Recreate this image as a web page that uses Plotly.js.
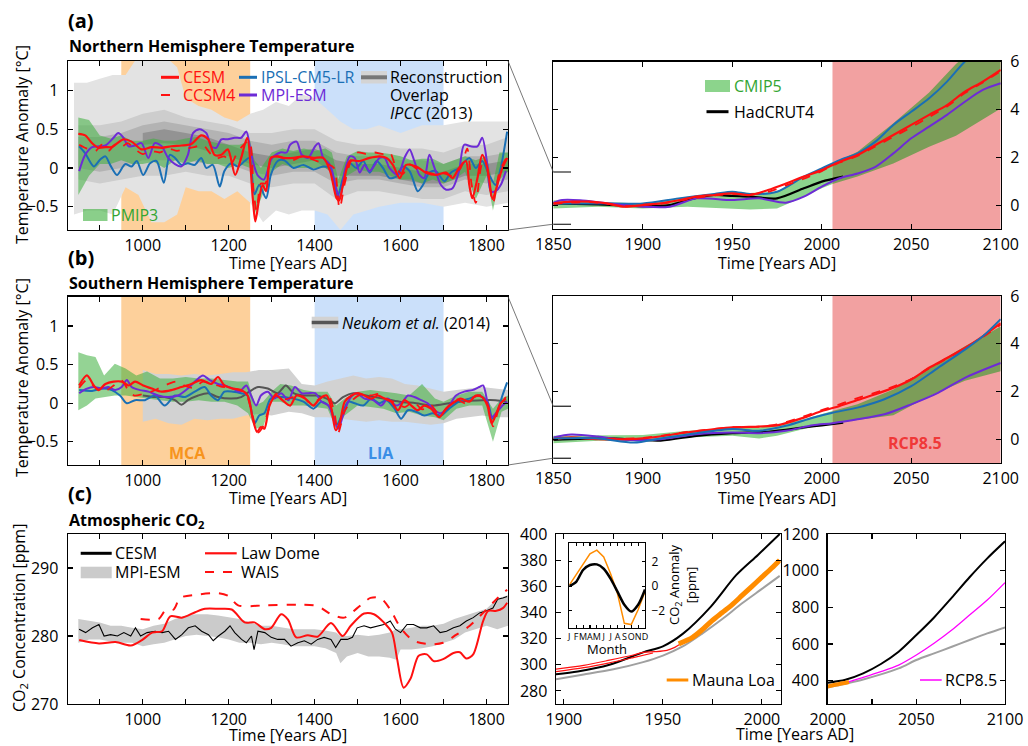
<!DOCTYPE html>
<html><head><meta charset="utf-8">
<script src="https://cdn.plot.ly/plotly-3.0.1.min.js"></script>
<style>html,body{margin:0;padding:0;background:#fff;}#chart{width:1028px;height:746px;}</style>
</head><body><div id="chart"></div>
<script>
// ---------------- DATA ----------------
// (a) left: Northern Hemisphere, last millennium
const aL_cesm_x = [850,866,882,897,913,928,955,974,997,1021,1044,1067,1090,1113,1136,1152,1167,1183,1198,1215,1229,1243,1256,1262,1271,1279,1287,1298,1314,1328,1351,1374,1397,1420,1436,1451,1457,1466,1482,1505,1528,1551,1567,1582,1598,1613,1636,1659,1682,1706,1721,1736,1752,1760,1767,1779,1790,1802,1814,1825,1837,1848];
const aL_cesm_y = [0.44,0.42,0.32,0.26,0.27,0.27,0.37,0.34,0.24,0.27,0.26,0.28,0.29,0.31,0.42,0.37,0.17,0.17,0.24,-0.09,0.13,0.39,-0.39,-0.69,-0.39,-0.22,-0.30,0.13,0.15,0.13,0.13,0.15,0.13,0.13,-0.04,-0.39,-0.42,-0.22,0.09,0.09,0.13,0.15,0.13,0.04,-0.13,0.04,0.02,-0.06,-0.09,-0.06,-0.13,0.0,0.09,-0.22,-0.39,-0.13,0.17,0.0,-0.40,-0.22,0.0,0.13];
const aL_ccsm_x = [852,870,890,905,920,935,950,965,980,1000,1020,1040,1060,1080,1100,1120,1140,1155,1170,1190,1205,1220,1235,1248,1258,1265,1275,1285,1295,1310,1330,1350,1370,1390,1410,1430,1445,1458,1470,1485,1500,1520,1540,1560,1575,1590,1605,1620,1640,1660,1680,1700,1720,1740,1755,1765,1775,1790,1800,1815,1830,1845];
const aL_ccsm_y = [0.3,0.25,0.22,0.3,0.22,0.3,0.27,0.32,0.25,0.18,0.22,0.2,0.25,0.22,0.25,0.27,0.3,0.2,0.12,0.15,0.05,0.2,0.3,0.35,-0.3,-0.55,-0.2,-0.2,0.05,0.15,0.12,0.1,0.15,0.12,0.08,0.05,0.0,-0.52,-0.2,0.1,0.2,0.18,0.2,0.18,0.2,0.0,-0.08,0.05,-0.02,-0.05,-0.08,-0.07,-0.1,0.0,0.25,-0.2,-0.45,0.05,0.0,-0.45,-0.05,0.12];
const aL_ipsl_x = [852,866,886,901,913,924,940,959,974,986,1001,1017,1032,1049,1063,1075,1090,1105,1121,1136,1148,1163,1179,1190,1206,1221,1237,1248,1260,1271,1287,1298,1314,1329,1351,1374,1397,1420,1436,1453,1466,1482,1497,1513,1528,1544,1559,1574,1590,1605,1621,1640,1652,1667,1682,1702,1717,1736,1760,1775,1790,1806,1821,1833,1848];
const aL_ipsl_y = [0.28,0.19,0.02,0.11,0.15,0.04,-0.09,0.05,0.02,0.09,-0.09,0.06,0.09,-0.19,0.17,0.13,0.04,0.06,0.04,0.13,0.0,0.04,-0.24,-0.04,0.06,0.02,0.09,0.13,-0.34,-0.22,-0.39,-0.09,0.09,0.10,0.0,0.04,-0.02,0.02,0.0,-0.37,-0.13,0.06,0.0,0.09,-0.06,0.09,0.0,-0.13,-0.11,0.02,-0.04,-0.30,-0.22,-0.06,-0.04,-0.17,-0.06,0.0,0.13,0.0,0.09,-0.09,-0.22,0.0,0.47];
const aL_mpi_x = [852,866,882,897,913,932,943,955,967,982,997,1013,1028,1044,1059,1075,1090,1105,1117,1132,1148,1159,1171,1183,1198,1214,1229,1241,1250,1258,1268,1282,1300,1320,1335,1343,1358,1370,1385,1401,1409,1420,1436,1451,1459,1470,1482,1493,1505,1516,1528,1540,1551,1563,1574,1594,1609,1621,1632,1644,1655,1667,1679,1694,1706,1721,1736,1748,1763,1779,1790,1802,1810,1821,1833,1845];
const aL_mpi_y = [-0.04,0.17,0.27,0.28,0.29,0.39,0.45,0.39,0.28,0.29,0.32,0.13,0.32,0.28,0.13,0.05,0.02,0.17,0.45,0.50,0.45,0.28,0.26,0.37,0.37,0.39,0.39,0.47,0.25,0.05,-0.1,-0.15,0.12,0.2,0.2,0.30,0.34,0.17,0.13,0.28,0.32,0.13,0.04,-0.28,-0.39,-0.04,0.15,0.13,-0.06,0.04,-0.04,0.04,0.13,0.13,0.0,-0.09,0.13,0.24,0.09,-0.09,-0.13,0.17,0.0,-0.22,-0.28,-0.26,-0.04,0.30,0.28,0.28,0.39,0.04,-0.30,-0.30,-0.22,-0.04];
const aL_pmip_x = [850,875,900,925,950,975,1000,1025,1050,1075,1100,1125,1150,1175,1200,1225,1250,1260,1275,1300,1325,1350,1375,1400,1425,1440,1455,1475,1500,1525,1550,1575,1600,1625,1650,1675,1700,1725,1750,1775,1800,1815,1830,1850];
const aL_pmip_up = [0.65,0.62,0.42,0.38,0.42,0.35,0.35,0.38,0.35,0.35,0.38,0.4,0.35,0.32,0.3,0.3,0.35,0.1,0.0,0.2,0.25,0.22,0.25,0.22,0.25,0.2,-0.15,0.15,0.22,0.2,0.2,0.18,0.15,0.1,0.12,0.12,0.05,0.1,0.15,0.1,0.15,-0.2,0.2,0.2];
const aL_pmip_lo = [-0.35,-0.1,0.05,0.05,0.1,0.05,0.05,0.08,0.0,0.1,0.05,0.1,0.05,0.05,0.0,0.05,0.0,-0.6,-0.4,-0.05,0.05,0.0,0.0,0.0,0.0,-0.05,-0.45,-0.1,-0.02,-0.05,-0.05,-0.1,-0.15,-0.15,-0.2,-0.15,-0.2,-0.15,-0.05,-0.4,-0.1,-0.55,-0.15,-0.05];
// reconstruction overlap (IPCC 2013), four shading levels
const rec1_x = [840,870,900,930,960,990,1020,1050,1080,1100,1130,1160,1190,1220,1250,1280,1310,1340,1370,1400,1430,1460,1490,1520,1550,1600,1650,1700,1750,1800,1850];
const rec1_up = [1.1,1.1,1.15,1.2,1.2,1.45,1.45,1.45,1.3,0.9,0.8,0.75,0.65,0.6,0.7,0.75,0.85,0.8,0.95,0.9,0.75,0.6,0.5,0.5,0.55,0.45,0.55,0.55,0.6,0.6,0.6];
const rec1_lo = [-0.6,-0.55,-0.55,-0.6,-0.25,-0.35,-0.7,-0.7,-0.6,-0.25,-0.3,-0.3,-0.4,-0.3,-0.45,-0.7,-0.55,-0.6,-0.55,-0.55,-0.6,-0.8,-0.6,-0.55,-0.5,-0.45,-0.45,-0.5,-0.45,-0.5,-0.45];
const rec2_x = [850,900,950,1000,1050,1100,1150,1200,1250,1300,1350,1400,1450,1500,1550,1600,1650,1700,1750,1800,1850];
const rec2_up = [0.55,0.55,0.6,0.7,0.75,0.65,0.6,0.55,0.45,0.45,0.5,0.5,0.35,0.3,0.3,0.25,0.25,0.2,0.3,0.3,0.4];
const rec2_lo = [-0.15,-0.2,-0.15,-0.1,-0.1,-0.05,-0.1,-0.1,-0.2,-0.25,-0.2,-0.2,-0.4,-0.3,-0.3,-0.35,-0.4,-0.4,-0.3,-0.35,-0.3];
const rec3_up = [0.4,0.4,0.45,0.55,0.6,0.55,0.5,0.45,0.35,0.3,0.35,0.35,0.2,0.15,0.15,0.1,0.1,0.05,0.15,0.15,0.2];
const rec3_lo = [0.0,-0.05,0.0,0.1,0.1,0.1,0.05,0.05,-0.05,-0.1,-0.05,-0.05,-0.2,-0.15,-0.15,-0.2,-0.25,-0.25,-0.15,-0.2,-0.15];
const rec4_x = [1000,1050,1100,1150,1200,1250,1300,1350,1400,1450,1500,1550,1600,1650,1700,1750,1800,1850];
const rec4_up = [0.45,0.5,0.45,0.4,0.3,0.2,0.15,0.2,0.25,0.1,0.05,0.05,0.0,-0.05,-0.05,0.05,0.05,0.1];
const rec4_lo = [0.3,0.32,0.3,0.22,0.15,0.05,0.0,0.05,0.1,-0.1,-0.1,-0.1,-0.15,-0.2,-0.2,-0.1,-0.1,-0.05];

// (a) right: NH 1850-2100
const aR_cesm_x = [1850,1860,1870,1880,1890,1900,1910,1920,1930,1940,1950,1960,1970,1980,1990,2000,2010,2020,2030,2040,2050,2060,2070,2080,2090,2100];
const aR_cesm_y = [0.07,0.14,0.14,0.07,-0.07,0.0,0.07,0.2,0.35,0.42,0.49,0.42,0.63,0.9,1.19,1.46,1.81,2.09,2.51,2.93,3.35,3.77,4.18,4.74,5.16,5.65];
const aR_ccsm_y = [0.05,0.1,0.12,0.05,-0.05,0.02,0.05,0.18,0.3,0.4,0.47,0.45,0.55,0.82,1.1,1.42,1.78,2.05,2.45,2.85,3.25,3.68,4.12,4.68,5.12,5.6];
const aR_ipsl_x = [1850,1875,1900,1920,1940,1950,1960,1975,1990,2000,2010,2020,2030,2040,2050,2060,2070,2080,2090,2100];
const aR_ipsl_y = [0.07,0.07,0.07,0.28,0.46,0.56,0.46,0.56,1.19,1.53,1.88,2.16,2.65,3.35,3.9,4.46,5.16,6.0,6.6,7.2];
const aR_mpi_x = [1850,1855,1865,1880,1900,1915,1930,1950,1965,1980,1990,2000,2010,2020,2030,2040,2050,2060,2070,2080,2090,2100];
const aR_mpi_y = [0.1,0.21,0.2,0.07,-0.07,-0.07,0.28,0.21,0.28,0.1,0.35,0.77,1.12,1.32,1.6,2.16,2.79,3.28,3.77,4.32,4.81,5.09];
const aR_had_x = [1850,1875,1900,1915,1925,1940,1950,1960,1975,1990,2000,2012];
const aR_had_y = [0.07,0.03,-0.04,0.0,0.21,0.42,0.38,0.35,0.28,0.7,0.98,1.19];
const aR_cmip_x = [1850,1875,1900,1925,1950,1960,1975,1990,2000,2006,2020,2040,2060,2075,2100];
const aR_cmip_up = [0.2,0.14,0.07,0.35,0.56,0.5,0.56,1.19,1.53,1.74,2.23,3.42,4.7,5.9,7.5];
const aR_cmip_lo = [-0.14,-0.07,-0.14,-0.07,-0.14,-0.18,-0.14,0.35,0.7,0.88,1.19,1.74,2.44,2.9,4.04];

// (b) left: Southern Hemisphere, last millennium
const bL_cesm_x = [852,870,886,897,913,932,951,967,982,1001,1021,1044,1067,1090,1113,1136,1159,1175,1190,1210,1229,1244,1256,1266,1275,1283,1295,1310,1325,1343,1358,1378,1397,1412,1428,1439,1449,1459,1470,1486,1501,1516,1532,1547,1563,1578,1594,1609,1625,1640,1655,1671,1690,1706,1721,1740,1760,1775,1790,1802,1812,1821,1833,1845];
const bL_cesm_y = [0.23,0.36,0.23,0.17,0.25,0.28,0.28,0.23,0.28,0.23,0.19,0.15,0.17,0.21,0.25,0.30,0.25,0.34,0.23,0.19,0.17,0.10,-0.20,-0.37,-0.31,-0.33,-0.03,0.10,0.04,-0.03,0.10,0.06,-0.03,0.06,0.10,-0.07,-0.35,-0.24,0.02,0.10,0.13,0.10,0.06,0.10,0.06,0.02,-0.09,0.04,-0.03,-0.09,-0.03,-0.07,-0.18,-0.07,0.0,0.06,0.02,0.10,0.08,-0.03,-0.26,-0.16,0.0,0.06];
const bL_ccsm_x = [852,870,890,910,930,950,965,980,1000,1020,1040,1060,1080,1100,1120,1140,1160,1180,1200,1220,1240,1255,1268,1280,1295,1310,1330,1350,1370,1390,1410,1430,1445,1455,1470,1490,1510,1530,1550,1570,1590,1610,1630,1650,1670,1690,1710,1730,1750,1770,1790,1805,1815,1830,1845];
const bL_ccsm_y = [0.2,0.3,0.2,0.15,0.22,0.3,0.18,0.1,0.12,0.15,0.2,0.25,0.28,0.22,0.2,0.28,0.25,0.22,0.2,0.18,0.12,-0.15,-0.38,-0.3,-0.05,0.12,0.05,0.08,0.1,0.0,0.05,0.12,-0.1,-0.38,-0.1,0.05,0.12,0.1,0.12,0.05,0.0,-0.05,0.02,-0.08,-0.02,-0.15,-0.05,0.05,0.0,0.08,0.1,-0.05,-0.3,-0.05,0.08];
const bL_ipsl_x = [852,882,905,928,947,963,982,1005,1028,1051,1075,1098,1121,1144,1159,1175,1190,1210,1229,1244,1260,1271,1283,1298,1322,1351,1374,1397,1416,1436,1451,1463,1478,1493,1513,1532,1551,1567,1586,1601,1617,1636,1655,1675,1694,1713,1736,1760,1783,1802,1814,1825,1837,1848];
const bL_ipsl_y = [0.17,0.16,0.19,0.17,0.10,0.0,0.04,0.04,0.10,-0.03,0.10,0.08,0.15,0.21,0.10,0.04,0.15,0.15,0.13,0.10,-0.26,-0.16,-0.13,0.06,0.08,0.06,0.02,-0.07,0.02,-0.05,-0.28,-0.16,0.02,0.0,-0.03,0.06,0.0,0.04,-0.07,-0.20,-0.09,-0.11,-0.16,-0.13,-0.16,-0.07,0.02,0.06,0.10,0.02,-0.20,-0.11,0.10,0.27];
const bL_mpi_x = [852,870,886,905,920,936,951,963,974,994,1013,1036,1059,1082,1105,1125,1140,1156,1175,1190,1210,1225,1241,1252,1264,1275,1291,1306,1322,1339,1354,1370,1385,1401,1416,1432,1447,1455,1466,1482,1497,1516,1536,1555,1570,1590,1605,1617,1632,1648,1663,1679,1694,1713,1729,1748,1767,1783,1792,1802,1812,1825,1837,1848];
const bL_mpi_y = [0.13,0.19,0.21,0.19,0.21,0.17,0.21,0.30,0.21,0.17,0.15,0.10,0.08,0.10,0.19,0.30,0.36,0.30,0.25,0.23,0.19,0.15,0.23,0.10,-0.03,0.10,0.15,0.06,0.13,0.04,0.21,0.13,0.13,0.13,0.02,-0.03,-0.24,-0.33,-0.16,0.06,0.13,0.06,0.04,-0.03,0.06,-0.03,0.02,0.10,0.08,0.04,0.0,-0.09,-0.13,-0.03,0.10,0.15,0.17,0.21,0.23,0.02,-0.18,-0.11,-0.03,0.02];
const bL_pmip_x = [850,870,890,910,935,960,985,1010,1040,1070,1100,1130,1160,1190,1220,1245,1262,1280,1300,1320,1345,1375,1400,1430,1450,1470,1500,1530,1560,1590,1620,1650,1680,1700,1730,1760,1790,1815,1835,1850];
const bL_pmip_up = [0.66,0.62,0.60,0.36,0.51,0.45,0.36,0.41,0.32,0.32,0.34,0.32,0.32,0.30,0.28,0.28,-0.03,0.02,0.15,0.25,0.23,0.17,0.15,0.15,-0.03,0.06,0.15,0.17,0.15,0.13,0.10,0.25,0.06,0.02,0.10,0.15,0.15,-0.07,0.06,0.10];
const bL_pmip_lo = [-0.09,-0.03,0.06,0.08,0.10,0.10,0.08,0.06,0.04,0.02,0.02,0.04,0.02,0.02,-0.03,-0.13,-0.33,-0.31,0.02,0.02,-0.03,-0.03,-0.05,-0.07,-0.33,-0.16,-0.03,-0.05,-0.07,-0.13,-0.11,-0.16,-0.18,-0.22,-0.07,-0.03,-0.03,-0.5,-0.11,-0.07];
const neuk_x = [1000,1028,1051,1075,1090,1105,1129,1152,1175,1206,1229,1248,1268,1291,1314,1333,1351,1374,1405,1428,1447,1466,1490,1520,1559,1598,1636,1675,1713,1752,1790,1821,1848];
const neuk_y = [0.1,0.08,0.08,0.04,-0.02,0.04,0.1,0.13,0.08,0.06,0.08,0.15,0.21,0.19,0.13,0.23,0.13,0.1,0.1,0.06,0.0,0.08,0.13,0.1,0.06,0.02,0.0,-0.03,0.0,0.03,0.04,0.04,0.02];
const neukB_x = [1000,1030,1060,1090,1120,1150,1180,1210,1240,1270,1300,1340,1370,1400,1430,1460,1490,1520,1550,1580,1610,1640,1670,1700,1730,1760,1790,1820,1850];
const neukB_up = [0.43,0.38,0.38,0.36,0.38,0.36,0.38,0.4,0.4,0.43,0.43,0.45,0.25,0.23,0.28,0.32,0.36,0.32,0.34,0.32,0.25,0.23,0.19,0.15,0.17,0.19,0.21,0.19,0.17];
const neukB_lo = [-0.24,-0.2,-0.26,-0.28,-0.2,-0.22,-0.2,-0.2,-0.16,-0.14,-0.16,-0.11,-0.13,-0.18,-0.18,-0.2,-0.22,-0.24,-0.22,-0.24,-0.24,-0.26,-0.28,-0.26,-0.2,-0.18,-0.16,-0.18,-0.18];

// (b) right: SH 1850-2100
const bR_cesm_x = [1850,1860,1875,1900,1925,1950,1965,1975,1990,2000,2010,2020,2030,2040,2050,2060,2070,2080,2090,2100];
const bR_cesm_y = [0.0,0.07,0.0,0.03,0.28,0.49,0.53,0.58,0.9,1.18,1.39,1.64,1.88,2.15,2.5,2.99,3.4,3.82,4.31,4.86];
const bR_ccsm_y = [0.02,0.05,0.02,0.05,0.3,0.5,0.52,0.62,0.95,1.22,1.46,1.72,1.95,2.2,2.52,2.97,3.38,3.8,4.28,4.8];
const bR_ipsl_x = [1850,1875,1895,1910,1930,1950,1965,1980,1995,2006,2020,2035,2050,2065,2080,2090,2100];
const bR_ipsl_y = [0.03,0.03,-0.14,0.03,0.25,0.42,0.35,0.56,0.9,1.11,1.32,1.67,2.22,2.99,3.75,4.31,5.03];
const bR_mpi_x = [1850,1860,1875,1890,1910,1930,1950,1965,1980,1995,2006,2020,2035,2050,2065,2080,2100];
const bR_mpi_y = [0.07,0.19,0.11,-0.03,0.0,0.21,0.28,0.25,0.35,0.58,0.67,0.83,1.04,1.46,1.94,2.57,3.19];
const bR_had_x = [1850,1880,1910,1930,1950,1970,1990,2000,2012];
const bR_had_y = [-0.03,0.03,-0.06,0.14,0.25,0.31,0.49,0.58,0.69];
const bR_cmip_x = [1850,1875,1900,1925,1950,1965,1975,1990,2006,2020,2040,2060,2080,2100];
const bR_cmip_up = [0.14,0.14,0.17,0.35,0.49,0.49,0.58,0.83,1.18,1.46,2.08,2.99,3.89,4.72];
const bR_cmip_lo = [-0.17,-0.07,-0.07,0.07,0.14,0.03,0.14,0.42,0.67,0.8,1.0,1.8,2.45,2.85];

// (c) left: atmospheric CO2, last millennium
const cL_cesm_x = [852,867,883,898,910,925,941,956,972,983,995,1010,1029,1045,1060,1076,1091,1106,1122,1137,1153,1164,1176,1191,1203,1214,1230,1241,1253,1259,1268,1284,1299,1314,1330,1345,1361,1376,1392,1407,1422,1438,1449,1461,1476,1488,1499,1515,1530,1546,1561,1576,1588,1600,1615,1630,1646,1661,1677,1692,1707,1723,1738,1753,1769,1784,1800,1815,1826,1838,1848];
const cL_cesm_y = [281.0,280.5,281.2,281.7,280.0,280.2,280.0,280.5,280.0,281.2,280.0,280.5,280.7,280.5,280.7,279.5,280.2,281.2,281.5,280.7,280.2,279.3,280.0,280.7,281.5,280.5,279.5,279.0,280.0,278.0,280.7,280.5,279.8,279.5,279.5,278.5,279.0,279.3,278.8,279.5,279.8,279.5,278.3,279.5,279.5,279.8,281.2,281.5,281.2,281.5,281.7,282.2,281.0,280.5,281.7,281.7,281.2,281.2,281.5,280.5,280.7,281.2,281.5,282.2,282.7,283.4,283.7,284.1,285.4,285.6,285.8];
const cL_mpi_x = [850,875,900,925,950,975,1000,1025,1050,1075,1100,1125,1150,1175,1200,1225,1250,1275,1300,1325,1350,1375,1400,1425,1450,1460,1475,1500,1525,1550,1575,1590,1600,1625,1650,1675,1700,1725,1750,1775,1800,1825,1850];
const cL_mpi_up = [282.5,282.2,282.0,281.5,281.5,281.2,281.0,281.5,281.8,282.5,283.0,283.2,283.2,283.0,282.8,282.5,282.0,281.5,281.5,281.2,281.0,281.0,281.0,280.8,280.5,280.0,280.0,280.2,280.0,280.2,280.5,281.0,281.0,281.2,281.5,281.5,281.8,282.5,283.0,283.5,284.0,285.5,286.0];
const cL_mpi_lo = [279.0,279.5,279.5,279.2,279.0,279.0,278.5,278.8,279.0,279.5,280.0,280.2,280.0,279.8,279.5,279.0,279.0,278.8,279.0,278.8,278.5,278.5,278.5,278.2,277.5,276.0,277.0,277.5,277.0,277.0,276.8,276.5,278.0,278.0,278.2,278.5,279.0,279.5,280.5,281.0,281.5,281.0,281.5];
const cL_law_x = [852,898,937,972,998,1022,1045,1064,1091,1122,1145,1176,1207,1237,1260,1284,1299,1322,1338,1357,1384,1407,1438,1465,1484,1515,1538,1561,1580,1592,1607,1623,1642,1661,1677,1699,1723,1738,1753,1769,1792,1804,1823,1838,1848];
const cL_law_y = [279.4,278.9,279.1,278.6,279.4,280.5,280.7,282.9,282.7,283.5,284.0,284.0,283.9,282.0,282.0,281.0,281.2,283.2,282.4,279.8,280.1,279.9,281.9,280.0,281.5,283.3,283.2,282.0,280.5,276.6,272.4,273.7,277.1,277.3,276.3,276.6,277.5,277.6,276.7,277.3,282.2,283.7,283.7,284.1,284.9];
const cL_wais_x = [995,1037,1052,1072,1087,1129,1176,1199,1222,1284,1361,1407,1438,1469,1499,1530,1553,1576,1600,1630,1669,1699,1730,1761,1792,1823,1848];
const cL_wais_y = [282.5,282.5,283.7,283.9,285.6,286.1,286.3,285.9,284.5,284.5,284.6,284.4,283.2,282.7,284.1,285.6,285.6,283.9,281.2,279.3,278.8,279.0,280.2,281.5,283.4,285.4,286.8];

// (c) middle: 20th century CO2
const cM_cesm_x = [1896,1907,1923,1940,1950,1960,1974,1987,1998,2009];
const cM_cesm_y = [292.8,294.9,300,309.5,314.1,323.6,344.1,368.5,384,400];
const cM_mpi_x = [1896,1910,1925,1940,1950,1960,1970,1980,1990,2000,2009];
const cM_mpi_y = [289,292.5,296.5,302,307,314,324,335,347,358,368];
const cM_law1_x = [1896,1910,1923,1935,1940,1946,1952,1956,1959];
const cM_law1_y = [296.6,299.5,303.5,307.5,309.5,310.0,311.0,313.3,316.0];
const cM_law2_x = [1896,1910,1923,1935,1945];
const cM_law2_y = [294.8,297.8,301.5,305.5,309.0];
const cM_ml_x = [1958,1965,1970,1975,1980,1985,1990,1995,2000,2005,2009];
const cM_ml_y = [316,321,327,334,340,346,353,360,367,374,380];
// inset: seasonal cycle
const months = [1,2,3,4,5,6,7,8,9,10,11,12];
const monthLabels = ['J','F','M','A','M','J','J','A','S','O','N','D'];
const inset_ml = [0.08,0.9,1.7,2.6,2.9,2.35,1.0,-0.6,-3.0,-3.1,-1.9,-0.45];
const inset_cesm = [0.0,0.35,1.3,1.7,1.75,1.4,0.6,-0.45,-1.5,-2.05,-1.5,-0.27];

// (c) right: 21st century CO2
const cR_x = [2000,2010,2020,2030,2040,2050,2060,2070,2080,2090,2100];
const cR_cesm = [389,405,440,491,558,649,745,853,964,1067,1160];
const cR_rcp = [371,389,418,449,485,540,604,676,758,840,935];
const cR_mpi_x = [2000,2020,2040,2050,2060,2070,2080,2090,2100];
const cR_mpi = [364,407,467,513,549,585,622,658,691];
const cR_ml_x = [2000,2005,2012];
const cR_ml = [368,379,393];

// tick values / labels
const millTicks = [1000,1200,1400,1600,1800];
const millMinor = [900,1100,1300,1500,1700];
const tTicks = [-0.5,0,0.5,1];
const tText = ['\u22120.5','0','0.5','1'];
const futTicks = [1850,1900,1950,2000,2050,2100];
const rTicks = [0,2,4,6];

// ---------------- DRAWING ----------------
const F = '"Open Sans", "Noto Sans", sans-serif';
const RED = '#ff1010', BLUE = '#1a6fb5', PURPLE = '#6d2bd6', GREENTXT = '#33a532';
const PMIP = 'rgba(60,175,60,0.55)', CMIP = '#8cd48c', OLIVE = '#7c9d58';
const PEACH = '#fdd09b', LBLUE = '#cbe0fa', PINK = '#f2a1a1';

function band(xs, up, lo, xa, ya, color) {
  return {x: xs.concat(xs.slice().reverse()), y: up.concat(lo.slice().reverse()),
    xaxis: xa, yaxis: ya, type: 'scatter', mode: 'lines', fill: 'toself', fillcolor: color,
    line: {width: 0, color: color}, hoverinfo: 'skip'};
}
function ln(xs, ys, xa, ya, color, width, dash, shape) {
  return {x: xs, y: ys, xaxis: xa, yaxis: ya, type: 'scatter', mode: 'lines',
    line: {color: color, width: width, dash: dash || 'solid', shape: shape || 'linear', smoothing: 0.8},
    hoverinfo: 'skip'};
}
function splitBand(xs, up, lo, cut, before) {
  const idx = xs.map((v, i) => i).filter(i => before ? xs[i] <= cut : xs[i] >= cut);
  return [idx.map(i => xs[i]), idx.map(i => up[i]), idx.map(i => lo[i])];
}

const traces = [];
// (a) left
traces.push(band(rec1_x, rec1_up, rec1_lo, 'x', 'y', '#e3e3e3'));
traces.push(band(rec2_x, rec2_up, rec2_lo, 'x', 'y', '#cdcdcd'));
traces.push(band(rec2_x, rec3_up, rec3_lo, 'x', 'y', '#b3b3b3'));
traces.push(band(rec4_x, rec4_up, rec4_lo, 'x', 'y', '#939393'));
traces.push(band(aL_pmip_x, aL_pmip_up, aL_pmip_lo, 'x', 'y', PMIP));
traces.push(ln(aL_ipsl_x, aL_ipsl_y, 'x', 'y', BLUE, 2, null, 'spline'));
traces.push(ln(aL_mpi_x, aL_mpi_y, 'x', 'y', PURPLE, 2, null, 'spline'));
traces.push(ln(aL_ccsm_x, aL_ccsm_y, 'x', 'y', RED, 1.8, 'dash', 'spline'));
traces.push(ln(aL_cesm_x, aL_cesm_y, 'x', 'y', RED, 2.2, null, 'spline'));
// (a) right
let s1 = splitBand(aR_cmip_x, aR_cmip_up, aR_cmip_lo, 2006, true);
let s2 = splitBand(aR_cmip_x, aR_cmip_up, aR_cmip_lo, 2006, false);
traces.push(band(s1[0], s1[1], s1[2], 'x2', 'y2', CMIP));
traces.push(band(s2[0], s2[1], s2[2], 'x2', 'y2', OLIVE));
traces.push(ln(aR_had_x, aR_had_y, 'x2', 'y2', '#000', 2.2, null, 'spline'));
traces.push(ln(aR_ipsl_x, aR_ipsl_y, 'x2', 'y2', BLUE, 2, null, 'spline'));
traces.push(ln(aR_mpi_x, aR_mpi_y, 'x2', 'y2', PURPLE, 2, null, 'spline'));
traces.push(ln(aR_cesm_x, aR_ccsm_y, 'x2', 'y2', RED, 1.8, 'dash', 'spline'));
traces.push(ln(aR_cesm_x, aR_cesm_y, 'x2', 'y2', RED, 2.2, null, 'spline'));
// (b) left
traces.push(band(neukB_x, neukB_up, neukB_lo, 'x3', 'y3', '#d2d2d2'));
traces.push(band(bL_pmip_x, bL_pmip_up, bL_pmip_lo, 'x3', 'y3', PMIP));
traces.push(ln(neuk_x, neuk_y, 'x3', 'y3', '#555555', 2, null, 'spline'));
traces.push(ln(bL_ipsl_x, bL_ipsl_y, 'x3', 'y3', BLUE, 2, null, 'spline'));
traces.push(ln(bL_mpi_x, bL_mpi_y, 'x3', 'y3', PURPLE, 2, null, 'spline'));
traces.push(ln(bL_ccsm_x, bL_ccsm_y, 'x3', 'y3', RED, 1.8, 'dash', 'spline'));
traces.push(ln(bL_cesm_x, bL_cesm_y, 'x3', 'y3', RED, 2.2, null, 'spline'));
// (b) right
s1 = splitBand(bR_cmip_x, bR_cmip_up, bR_cmip_lo, 2006, true);
s2 = splitBand(bR_cmip_x, bR_cmip_up, bR_cmip_lo, 2006, false);
traces.push(band(s1[0], s1[1], s1[2], 'x4', 'y4', CMIP));
traces.push(band(s2[0], s2[1], s2[2], 'x4', 'y4', OLIVE));
traces.push(ln(bR_had_x, bR_had_y, 'x4', 'y4', '#000', 2.2, null, 'spline'));
traces.push(ln(bR_mpi_x, bR_mpi_y, 'x4', 'y4', PURPLE, 2, null, 'spline'));
traces.push(ln(bR_cesm_x, bR_ccsm_y, 'x4', 'y4', RED, 1.8, 'dash', 'spline'));
traces.push(ln(bR_cesm_x, bR_cesm_y, 'x4', 'y4', RED, 2.2, null, 'spline'));
traces.push(ln(bR_ipsl_x, bR_ipsl_y, 'x4', 'y4', BLUE, 2, null, 'spline'));
// (c) left
traces.push(band(cL_mpi_x, cL_mpi_up, cL_mpi_lo, 'x5', 'y5', '#cbcbcb'));
traces.push(ln(cL_cesm_x, cL_cesm_y, 'x5', 'y5', '#000', 1.1));
traces.push(ln(cL_wais_x, cL_wais_y, 'x5', 'y5', RED, 2, 'dash', 'spline'));
traces.push(ln(cL_law_x, cL_law_y, 'x5', 'y5', RED, 2, null, 'spline'));
// (c) middle
traces.push(ln(cM_mpi_x, cM_mpi_y, 'x6', 'y6', '#a0a0a0', 2, null, 'spline'));
traces.push(ln(cM_cesm_x, cM_cesm_y, 'x6', 'y6', '#000', 2, null, 'spline'));
traces.push(ln(cM_law2_x, cM_law2_y, 'x6', 'y6', RED, 1.2, null, 'spline'));
traces.push(ln(cM_law1_x, cM_law1_y, 'x6', 'y6', RED, 1.2, null, 'spline'));
traces.push(ln(cM_ml_x, cM_ml_y, 'x6', 'y6', '#ff8c00', 5, null, 'spline'));
// inset
traces.push(ln(months, inset_ml, 'x8', 'y8', '#ff8c00', 1.5));
traces.push(ln(months, inset_cesm, 'x8', 'y8', '#000', 2.5, null, 'spline'));
// (c) right
traces.push(ln(cR_mpi_x, cR_mpi, 'x7', 'y7', '#a0a0a0', 2, null, 'spline'));
traces.push(ln(cR_x, cR_rcp, 'x7', 'y7', '#ff00ff', 1.3, null, 'spline'));
traces.push(ln(cR_x, cR_cesm, 'x7', 'y7', '#000', 2, null, 'spline'));
traces.push(ln(cR_ml_x, cR_ml, 'x7', 'y7', '#ff8c00', 4, null, 'spline'));

// ---------- layout helpers ----------
const W = 1028, H = 746;
const px = v => v / W, py = v => 1 - v / H;
const MINOR = {ticks: 'inside', ticklen: 5, tickwidth: 1.1, tickcolor: '#000', showgrid: false};
function ax(extra) {
  return Object.assign({showgrid: false, zeroline: false, showline: true, linecolor: '#000', linewidth: 1.4,
    mirror: 'ticks', ticks: 'inside', ticklen: 5, tickwidth: 1.1, tickcolor: '#000',
    tickfont: {family: F, size: 16, color: '#000'}, fixedrange: true, tickangle: 0}, extra);
}
const domLX = [px(68), px(508)], domRX = [px(553.3), px(1000.7)];
const domA = [py(230), py(61)], domB = [py(465), py(296.7)], domC = [py(704), py(534)];
const domAR = [py(229), py(61.5)], domBR = [py(463), py(296)];

const layout = {
  width: W, height: H, margin: {l: 0, r: 0, t: 0, b: 0}, showlegend: false,
  paper_bgcolor: '#fff', plot_bgcolor: '#fff', font: {family: F, size: 16, color: '#000'},
  xaxis: ax({domain: domLX, range: [826, 1850], anchor: 'y', tickvals: millTicks, minor: Object.assign({tickvals: millMinor}, MINOR)}),
  yaxis: ax({domain: domA, range: [-0.8, 1.38], anchor: 'x', tickvals: tTicks, ticktext: tText, ticklabelstandoff: 5}),
  xaxis2: ax({domain: domRX, range: [1850, 2100], anchor: 'y2', tickvals: futTicks}),
  yaxis2: ax({domain: domAR, range: [-1, 6], anchor: 'x2', side: 'right', tickvals: rTicks, ticklabelstandoff: 5}),
  xaxis3: ax({domain: domLX, range: [826, 1850], anchor: 'y3', tickvals: millTicks, minor: Object.assign({tickvals: millMinor}, MINOR)}),
  yaxis3: ax({domain: domB, range: [-0.8, 1.38], anchor: 'x3', tickvals: tTicks, ticktext: tText, ticklabelstandoff: 5}),
  xaxis4: ax({domain: domRX, range: [1850, 2100], anchor: 'y4', tickvals: futTicks}),
  yaxis4: ax({domain: domBR, range: [-1, 6], anchor: 'x4', side: 'right', tickvals: rTicks, ticklabelstandoff: 5}),
  xaxis5: ax({domain: domLX, range: [826, 1850], anchor: 'y5', tickvals: millTicks, minor: Object.assign({tickvals: millMinor}, MINOR)}),
  yaxis5: ax({domain: domC, range: [270, 295], anchor: 'x5', tickvals: [270, 280, 290], ticklabelstandoff: 5}),
  xaxis6: ax({domain: [px(556), px(780.7)], range: [1896, 2009.5], anchor: 'y6', tickvals: [1900, 1950, 2000], minor: Object.assign({tickvals: [1925, 1975]}, MINOR)}),
  yaxis6: ax({domain: domC, range: [270, 400], anchor: 'x6', tickvals: [280, 300, 320, 340, 360, 380, 400], ticklabelstandoff: 4}),
  xaxis7: ax({domain: [px(827.7), px(1005)], range: [2000, 2100], anchor: 'y7', tickvals: [2000, 2050, 2100], minor: Object.assign({tickvals: [2025, 2075]}, MINOR)}),
  yaxis7: ax({domain: domC, range: [273, 1200], anchor: 'x7', tickvals: [400, 600, 800, 1000, 1200], ticklabelstandoff: 4}),
  xaxis8: ax({domain: [px(569.3), px(645)], range: [1, 12], anchor: 'y8', tickvals: months, ticktext: monthLabels, ticklen: 3, linewidth: 1.1, tickfont: {family: F, size: 9, color: '#000'}, ticklabelstandoff: 0}),
  yaxis8: ax({domain: [py(628.3), py(542.7)], range: [-3.4, 3.5], anchor: 'x8', side: 'right', tickvals: [-2, 0, 2], ticklen: 3, linewidth: 1.1, tickfont: {family: F, size: 12, color: '#000'}, ticklabelstandoff: 3}),
  shapes: [], annotations: []
};

const S = layout.shapes, A = layout.annotations;
// period shading
[['x', 'y'], ['x3', 'y3']].forEach(([xa, ya]) => {
  S.push({type: 'rect', xref: xa, yref: ya + ' domain', x0: 950, x1: 1250, y0: 0, y1: 1, fillcolor: PEACH, line: {width: 0}, layer: 'below'});
  S.push({type: 'rect', xref: xa, yref: ya + ' domain', x0: 1400, x1: 1700, y0: 0, y1: 1, fillcolor: LBLUE, line: {width: 0}, layer: 'below'});
});
[['x2', 'y2'], ['x4', 'y4']].forEach(([xa, ya]) => {
  S.push({type: 'rect', xref: xa, yref: ya + ' domain', x0: 2006, x1: 2100, y0: 0, y1: 1, fillcolor: PINK, line: {width: 0}, layer: 'below'});
  // range marks of the left panel on the right panel's left axis
  [1.38, -0.8].forEach(v => S.push({type: 'line', xref: 'paper', yref: ya, x0: px(553.3), x1: px(571), y0: v, y1: v, line: {color: '#000', width: 1.1}}));
});
// inset zero line
S.push({type: 'line', xref: 'x8 domain', yref: 'y8', x0: 0, x1: 1, y0: 0, y1: 0, line: {color: '#777', width: 1, dash: 'dash'}, layer: 'below'});
// zoom connector lines
function seg(x0, y0, x1, y1, color, width, dash) {
  S.push({type: 'line', xref: 'paper', yref: 'paper', x0: px(x0), y0: py(y0), x1: px(x1), y1: py(y1), line: {color: color, width: width, dash: dash || 'solid'}});
}
seg(508, 61, 553.3, 172, '#555', 0.8);
seg(508, 230, 553.3, 224.2, '#555', 0.8);
seg(508, 296.7, 553.3, 406.2, '#555', 0.8);
seg(508, 465, 553.3, 458.2, '#555', 0.8);
function rect(x0, y0, x1, y1, color) {
  S.push({type: 'rect', xref: 'paper', yref: 'paper', x0: px(x0), y0: py(y1), x1: px(x1), y1: py(y0), fillcolor: color, line: {width: 0}});
}
// legend samples (a) left
seg(161, 77.3, 179, 77.3, RED, 3);
seg(161, 95, 179, 95, RED, 2, 'dash');
seg(239, 77.3, 257, 77.3, BLUE, 3);
seg(239, 95, 257, 95, PURPLE, 3);
rect(361, 71, 387, 83.5, '#d4d4d4');
seg(361, 77.3, 387, 77.3, '#777', 4);
rect(83, 209, 107.5, 221, 'rgba(60,175,60,0.6)');
// legend (a) right
rect(705, 80, 730, 92, CMIP);
seg(706.5, 111.7, 728.5, 111.7, '#000', 3);
// legend (b) left
rect(311.7, 316.7, 338.3, 328.3, '#d2d2d2');
seg(311.7, 322.5, 338.3, 322.5, '#555', 3.5);
// legend (c) left
seg(80.7, 553.3, 111.7, 553.3, '#000', 3);
rect(80.7, 566.7, 111.7, 578.3, '#cbcbcb');
seg(205, 553.3, 236.7, 553.3, RED, 2.2);
seg(205, 572, 236.7, 572, RED, 2, 'dash');
// legend (c) middle & right
seg(666.7, 680, 688.3, 680, '#ff8c00', 3);
seg(920, 680, 941.7, 680, '#ff00ff', 1.5);

function T(text, x, y, o) {
  o = o || {};
  A.push({text: text, x: px(x), y: py(y), xref: 'paper', yref: 'paper', showarrow: false,
    xanchor: o.xa || 'left', yanchor: 'middle', textangle: o.rot || 0,
    font: {family: F, size: o.size || 16, color: o.color || '#000'}});
}
// panel labels & titles
T('<b>(a)</b>', 66, 20, {size: 20});
T('<b>Northern Hemisphere Temperature</b>', 67, 46, {size: 16});
T('<b>(b)</b>', 66, 257, {size: 20});
T('<b>Southern Hemisphere Temperature</b>', 67, 283, {size: 16});
T('<b>(c)</b>', 66, 493, {size: 20});
T('<b>Atmospheric CO<sub>2</sub></b>', 67, 520, {size: 16});
// axis titles
T('Temperature Anomaly [°C]', 22, 145, {rot: -90, xa: 'center'});
T('Temperature Anomaly [°C]', 22, 378, {rot: -90, xa: 'center'});
T('CO<sub>2</sub> Concentration [ppm]', 19, 618, {rot: -90, xa: 'center'});
T('Time [Years AD]', 288, 263, {xa: 'center'});
T('Time [Years AD]', 777, 263, {xa: 'center'});
T('Time [Years AD]', 288, 498, {xa: 'center'});
T('Time [Years AD]', 777, 498, {xa: 'center'});
T('Time [Years AD]', 288, 735, {xa: 'center'});
T('Time [Years AD]', 795, 734, {xa: 'center'});
// legends text
T('CESM', 181, 77, {color: RED});
T('CCSM4', 181, 95, {color: RED});
T('IPSL-CM5-LR', 259, 77, {color: BLUE});
T('MPI-ESM', 259, 95, {color: PURPLE});
T('Reconstruction', 388, 77);
T('Overlap', 388, 95);
T('<i>IPCC</i> (2013)', 388, 113);
T('PMIP3', 109, 215, {color: GREENTXT});
T('CMIP5', 732, 86, {color: GREENTXT});
T('HadCRUT4', 732, 112);
T('<i>Neukom et al.</i> (2014)', 340, 322.5);
T('<b>MCA</b>', 187.5, 452.5, {xa: 'center', color: '#f7941d'});
T('<b>LIA</b>', 381, 452.5, {xa: 'center', color: '#3a8ee6'});
T('<b>RCP8.5</b>', 915, 443, {xa: 'center', color: '#f03838'});
T('CESM', 113, 553);
T('MPI-ESM', 113, 572);
T('Law Dome', 239, 553);
T('WAIS', 239, 572);
T('Mauna Loa', 690, 680);
T('RCP8.5', 943, 680);
// inset titles
T('CO<sub>2</sub> Anomaly<br>[ppm]', 682, 585, {rot: -90, xa: 'center', size: 13});
T('Month', 607, 649, {xa: 'center', size: 13});

Plotly.newPlot('chart', traces, layout, {staticPlot: true, displayModeBar: false});
</script>
</body></html>
